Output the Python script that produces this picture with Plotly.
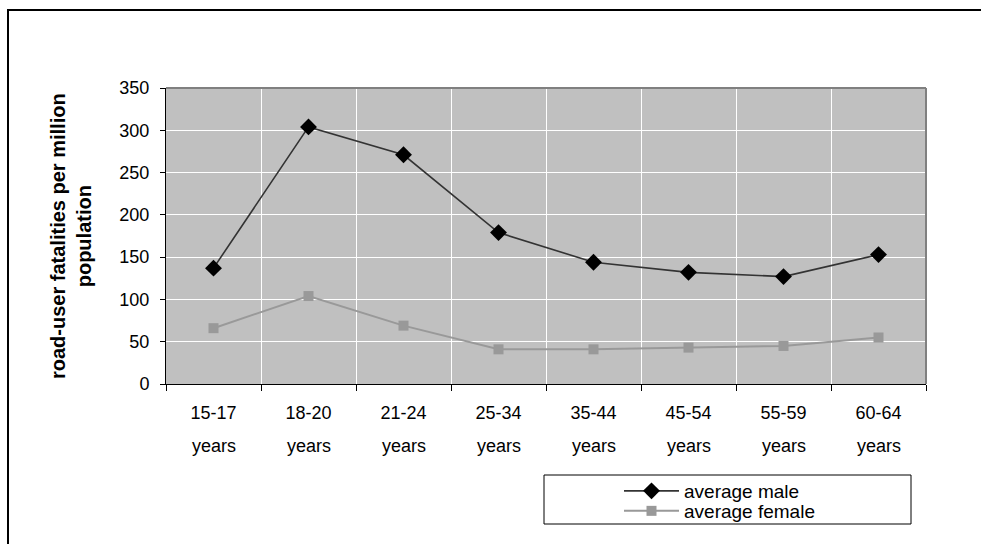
import plotly.graph_objects as go

# Age groups and road-user fatality rates (per million population)
age_groups = ["15-17", "18-20", "21-24", "25-34", "35-44", "45-54", "55-59", "60-64"]
age_unit = "years"
male_rate = [137, 304, 271, 179, 144, 132, 127, 153]
female_rate = [66, 104, 69, 41, 41, 43, 45, 55]
y_ticks = [0, 50, 100, 150, 200, 250, 300, 350]

W, H = 981, 544
L, R, T, B = 166, 926, 88, 384  # plot area in pixels


def px_x(p):
    return (p - L) / (R - L)


def px_y(p):
    return (B - p) / (B - T)


FONT = "Liberation Sans, Arial, sans-serif"
TICK_SIZE = 18
LEGEND_SIZE = 19

fig = go.Figure()
fig.add_trace(go.Scatter(
    x=age_groups, y=male_rate, name="average male", mode="lines+markers",
    line=dict(color="#333333", width=1.6),
    marker=dict(symbol="diamond", size=13, color="#000000"),
    legend="legend",
))
fig.add_trace(go.Scatter(
    x=age_groups, y=female_rate, name="average female", mode="lines+markers",
    line=dict(color="#999999", width=2),
    marker=dict(symbol="square", size=10, color="#999999"),
    legend="legend2",
))

legend_common = dict(
    xanchor="left", yanchor="middle",
    bgcolor="rgba(0,0,0,0)", borderwidth=0,
    font=dict(size=LEGEND_SIZE), itemwidth=55,
)

fig.update_layout(
    width=W, height=H,
    margin=dict(l=L, r=W - R, t=T, b=H - B),
    paper_bgcolor="#ffffff",
    plot_bgcolor="#c0c0c0",
    font=dict(family=FONT, size=TICK_SIZE, color="#000000"),
    showlegend=True,
    legend=dict(x=px_x(619), y=px_y(491), **legend_common),
    legend2=dict(x=px_x(619), y=px_y(511), **legend_common),
    xaxis=dict(
        type="category", categoryorder="array", categoryarray=age_groups,
        tickson="boundaries", ticks="outside", ticklen=6, tickcolor="#000000",
        showgrid=True, gridcolor="#ffffff", gridwidth=1,
        showline=True, linecolor="#000000", linewidth=1,
        tickfont=dict(size=TICK_SIZE), ticklabelstandoff=12,
        range=[-0.5, len(age_groups) - 0.5],
    ),
    yaxis=dict(
        range=[0, 350], tickvals=y_ticks, ticks="outside", ticklen=5,
        tickcolor="#000000", showgrid=True, gridcolor="#ffffff", gridwidth=1,
        showline=True, linecolor="#000000", linewidth=1, zeroline=False,
        tickfont=dict(size=TICK_SIZE), ticklabelstandoff=7,
    ),
)

# second line of each category label
for g in age_groups:
    fig.add_annotation(
        x=g, xref="x", y=px_y(446), yref="paper", text=age_unit,
        showarrow=False, font=dict(size=TICK_SIZE), yanchor="middle",
    )

# y-axis title
fig.add_annotation(
    x=px_x(71), xref="paper", y=px_y(236), yref="paper",
    text="<b>road-user fatalities per million<br>population</b>",
    textangle=-90, showarrow=False, font=dict(size=20),
    xanchor="center", yanchor="middle",
)

shapes = [
    # plot-area frame on the top and right
    dict(type="line", xref="paper", yref="paper", x0=0, x1=1, y0=1, y1=1,
         line=dict(color="#808080", width=2)),
    dict(type="line", xref="paper", yref="paper", x0=1, x1=1, y0=0, y1=1,
         line=dict(color="#808080", width=2)),
    # legend box
    dict(type="rect", xref="paper", yref="paper",
         x0=px_x(544), x1=px_x(911), y0=px_y(524), y1=px_y(475),
         line=dict(color="#000000", width=1), fillcolor="rgba(0,0,0,0)"),
    # outer chart frame, top and left edges
    dict(type="line", xref="paper", yref="paper",
         x0=px_x(7), x1=px_x(W), y0=px_y(10), y1=px_y(10),
         line=dict(color="#000000", width=2)),
    dict(type="line", xref="paper", yref="paper",
         x0=px_x(8), x1=px_x(8), y0=px_y(9), y1=px_y(H),
         line=dict(color="#000000", width=2)),
]
fig.update_layout(shapes=shapes)

fig.write_html("out.html", config={"displayModeBar": False})
